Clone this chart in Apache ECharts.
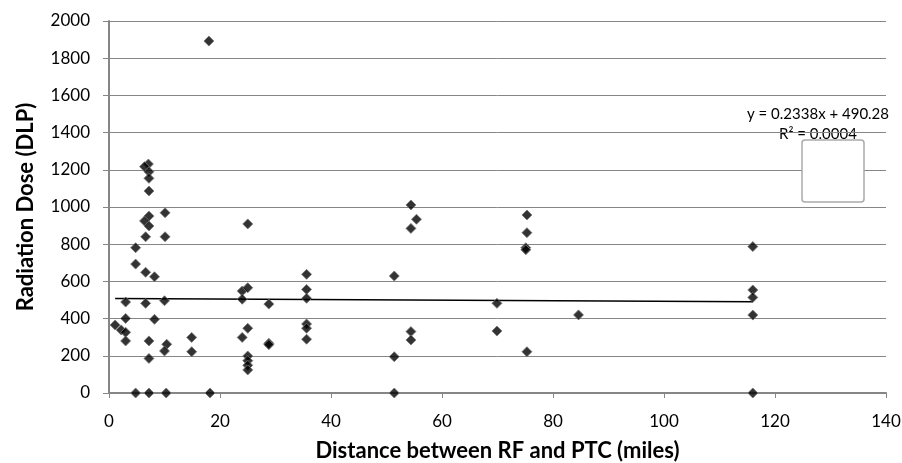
<!DOCTYPE html>
<html>
<head>
<meta charset="utf-8">
<script src="https://cdn.jsdelivr.net/npm/echarts@6/dist/echarts.min.js"></script>
<style>
html, body { margin: 0; padding: 0; background: #fff; }
#chart { width: 902px; height: 463px; }
</style>
</head>
<body>
<div id="chart"></div>
<script>
// distance (miles) and radiation dose (DLP)
const distance = [
    7.1, 6.4, 7.2, 7.2, 7.2, 10.1, 7.2, 6.4, 7.2, 6.6,
    10.1, 4.8, 4.8, 6.6, 8.2, 3.0, 6.6, 10.0, 3.0, 8.2,
    1.1, 2.2, 3.0, 3.0, 7.2, 10.4, 10.0, 7.2, 14.9, 14.9,
    4.8, 7.2, 10.3, 18.2, 18.0,
    25.0, 24.0, 25.0, 24.0, 28.8, 35.6, 35.6, 35.6, 35.6, 35.6,
    35.6, 25.0, 24.0, 28.8, 28.8, 25.0, 25.0, 25.0, 25.0,
    54.4, 55.4, 54.4, 51.4, 51.4, 51.4, 54.4, 54.4, 69.9, 69.9,
    75.3, 75.3, 75.1, 75.1, 75.3, 84.6,
    116, 116, 116, 116, 116
]
const dose = [
    1231, 1217, 1190, 1154, 1086, 969, 951, 925, 898, 840,
    840, 781, 693, 649, 625, 489, 482, 496, 401, 396,
    366, 339, 326, 280, 280, 262, 226, 186, 299, 222,
    0, 0, 0, 0, 1892,
    909, 548, 566, 504, 478, 638, 557, 509, 371, 348,
    289, 348, 299, 267, 260, 199, 174, 149, 124,
    1011, 934, 885, 629, 195, 0, 330, 285, 482, 333,
    957, 862, 781, 770, 222, 420,
    787, 554, 514, 419, 0
]
// linear trend line as drawn (end points)
const trendX = [1.1, 116]
const trendY = [508, 491]
const xTicks = [0, 140, 20]
const yTicks = [0, 2000, 200]
const equation = ['y = 0.2338x + 490.28', 'R² = 0.0004']

const points = distance.map((d, i) => [d, dose[i]])
const trend = trendX.map((d, i) => [d, trendY[i]])

const chart = echarts.init(document.getElementById('chart'))
const axisGrey = '#868686'
const font = 'Lato, "Open Sans", sans-serif'

chart.setOption({
    animation: false,
    grid: {
        left: 109,
        right: 16,
        top: 21,
        bottom: 70,
        outerBoundsMode: 'none'
    },
    xAxis: {
        type: 'value',
        min: xTicks[0],
        max: xTicks[1],
        interval: xTicks[2],
        name: 'Distance between RF and PTC (miles)',
        nameLocation: 'middle',
        nameGap: 47,
        nameTextStyle: { fontFamily: font, fontSize: 22, fontWeight: 'bold', color: '#000' },
        axisLine: { lineStyle: { color: axisGrey, width: 2 } },
        axisTick: { show: true, length: 5, lineStyle: { color: axisGrey } },
        axisLabel: { fontFamily: font, fontSize: 17, color: '#000', margin: 20 },
        splitLine: { show: false }
    },
    yAxis: {
        type: 'value',
        min: yTicks[0],
        max: yTicks[1],
        interval: yTicks[2],
        name: 'Radiation Dose (DLP)',
        nameLocation: 'middle',
        nameGap: 72,
        nameTextStyle: { fontFamily: font, fontSize: 22, fontWeight: 'bold', color: '#000' },
        axisLine: { show: true, lineStyle: { color: axisGrey, width: 2 } },
        axisTick: { show: true, length: 6, lineStyle: { color: axisGrey } },
        axisLabel: {
            fontFamily: font,
            fontSize: 17,
            color: '#000',
            margin: 19,
            formatter: v => String(v)
        },
        splitLine: { lineStyle: { color: axisGrey, width: 1 } }
    },
    series: [
        {
            type: 'scatter',
            symbol: 'diamond',
            symbolSize: 10,
            itemStyle: { color: '#000', borderColor: '#777', borderWidth: 1 },
            data: points,
            z: 3
        },
        {
            type: 'line',
            data: trend,
            symbol: 'none',
            lineStyle: { color: '#000', width: 1.5 },
            z: 2
        }
    ],
    graphic: [
        {
            type: 'text',
            x: 818,
            y: 104,
            z: 0,
            style: {
                text: equation.join('\n'),
                align: 'center',
                fontFamily: font,
                fontSize: 15,
                lineHeight: 20,
                fill: '#000'
            }
        },
        {
            type: 'rect',
            shape: { x: 802, y: 140, width: 62, height: 62, r: 3 },
            style: { fill: '#fff', stroke: '#aaa', lineWidth: 1.5 },
            z: 10
        }
    ]
})
</script>
</body>
</html>
